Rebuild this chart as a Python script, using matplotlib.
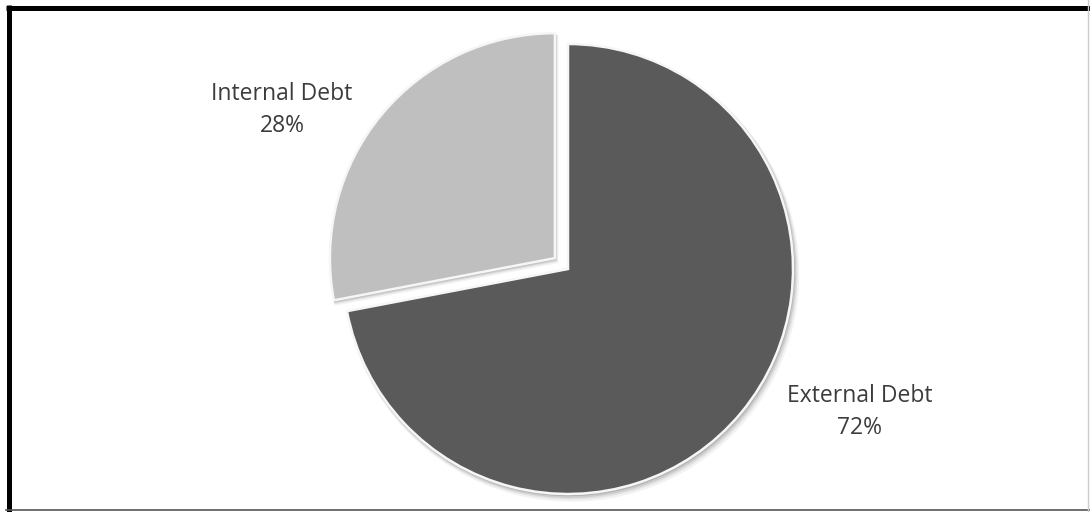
import matplotlib
matplotlib.use("Agg")
import matplotlib.pyplot as plt
from matplotlib.lines import Line2D

categories = ["External Debt", "Internal Debt"]
values = [72, 28]
colors = ["#5a5a5a", "#bfbfbf"]
explode = [0, 17]

W, H = 1090, 512
fig = plt.figure(figsize=(W / 100, H / 100), dpi=100)
ax = fig.add_axes([0, 0, 1, 1])

cx, cy, r = 568, 243, 225

# soft shadow layers
for off, a in [(7, 0.05), (5, 0.07), (3.5, 0.09), (2, 0.12)]:
    ax.pie(values, explode=explode, startangle=90, counterclock=False,
           radius=r + off * 0.4, center=(cx + off * 0.5, cy - off * 0.7),
           colors=["#000000", "#000000"], frame=True,
           wedgeprops=dict(alpha=a, linewidth=0))

wedges, _ = ax.pie(values, explode=explode, startangle=90, counterclock=False,
                   radius=r, center=(cx, cy), colors=colors, frame=True,
                   wedgeprops=dict(edgecolor="#f6f6f6", linewidth=1.8))
ax.set_xlim(0, W)
ax.set_ylim(0, H)
ax.set_aspect("equal")
ax.axis("off")

label_pos = {"External Debt": (860, 100), "Internal Debt": (282, 402)}
for cat, v in zip(categories, values):
    x, y = label_pos[cat]
    ax.text(x, y, f"{cat}\n{v}%", ha="center", va="center",
            fontsize=16.5, family="Open Sans", color="#3c3c3c",
            linespacing=1.5)

# frame
fig.add_artist(Line2D([8.5 / W, 8.5 / W], [0, 1 - 5 / H], transform=fig.transFigure,
                      color="black", lw=3.6, solid_capstyle="butt"))
fig.add_artist(Line2D([6 / W, 1], [1 - 7.5 / H, 1 - 7.5 / H], transform=fig.transFigure,
                      color="black", lw=3.6, solid_capstyle="butt"))
fig.add_artist(Line2D([6 / W, 1], [2.5 / H, 2.5 / H], transform=fig.transFigure,
                      color="#555555", lw=1.2))
fig.add_artist(Line2D([1088 / W, 1088 / W], [0, 1], transform=fig.transFigure,
                      color="#cccccc", lw=1.0))

fig.savefig("out.png", dpi=100, facecolor="white")
